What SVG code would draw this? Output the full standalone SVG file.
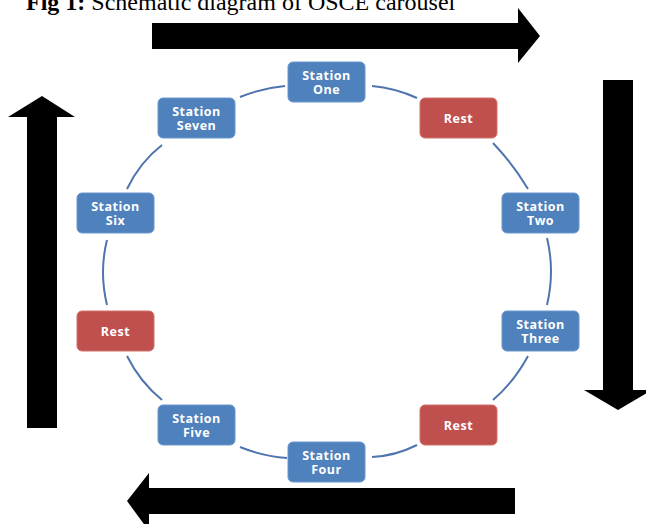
<svg xmlns="http://www.w3.org/2000/svg" width="646" height="524" viewBox="0 0 646 524">
<style>
.title{font-family:"Liberation Serif","Times New Roman",serif;font-size:24px;fill:#000}
.blue{fill:#4F81BD;stroke:#6B97CE;stroke-width:1}
.red{fill:#C0504D;stroke:#D0706D;stroke-width:1}
.lbl{font-family:"Open Sans","Liberation Sans",sans-serif;font-weight:bold;font-size:12.5px;fill:#fff;text-anchor:middle;letter-spacing:0.5px}
.conn path{fill:none;stroke:#4F74AE;stroke-width:2}
.arrow{fill:#000}
</style>
<rect width="646" height="524" fill="#fff"/>
<text class="title" x="26" y="10"><tspan font-weight="bold">Fig 1:</tspan> Schematic diagram of OSCE carousel</text>

<g id="arrows">
<polygon class="arrow" points="152,23 518,23 518,8 540,36 518,63 518,49 152,49"/>
<polygon class="arrow" points="603,80 633,80 633,390 652,390 618,410 584,390 603,390"/>
<polygon class="arrow" points="515,488 515,514 149,514 149,531 127,501 149,473 149,488"/>
<polygon class="arrow" points="27,428 27,117 8,117 42,96 75,117 57,117 57,428"/>
</g>

<g id="connectors" class="conn">
<path d="M240,97 Q262,88 285,86"/>
<path d="M372,86 Q395,88 417,98"/>
<path d="M493,143 Q513,164 528,189"/>
<path d="M547,238 Q555,271 547,305"/>
<path d="M528,356 Q514,382 493,400"/>
<path d="M417,445 Q395,456 372,457"/>
<path d="M287,458 Q262,456 240,447"/>
<path d="M162,400 Q140,382 127,356"/>
<path d="M107,305 Q99,272 107,240"/>
<path d="M127,189 Q140,162 162,145"/>
</g>

<g id="station-one"><rect class="blue" x="288" y="62" width="77" height="40" rx="5"/><text class="lbl" x="326.5" y="80">Station</text><text class="lbl" x="326.5" y="94">One</text></g>
<g id="rest-1"><rect class="red" x="420" y="98" width="77" height="40" rx="5"/><text class="lbl" x="458.5" y="122.5">Rest</text></g>
<g id="station-two"><rect class="blue" x="502" y="193" width="77" height="40" rx="5"/><text class="lbl" x="540.5" y="211">Station</text><text class="lbl" x="540.5" y="225">Two</text></g>
<g id="station-three"><rect class="blue" x="502" y="311" width="77" height="40" rx="5"/><text class="lbl" x="540.5" y="329">Station</text><text class="lbl" x="540.5" y="343">Three</text></g>
<g id="rest-2"><rect class="red" x="420" y="405" width="77" height="40" rx="5"/><text class="lbl" x="458.5" y="429.5">Rest</text></g>
<g id="station-four"><rect class="blue" x="288" y="442" width="77" height="40" rx="5"/><text class="lbl" x="326.5" y="460">Station</text><text class="lbl" x="326.5" y="474">Four</text></g>
<g id="station-five"><rect class="blue" x="158" y="405" width="77" height="40" rx="5"/><text class="lbl" x="196.5" y="423">Station</text><text class="lbl" x="196.5" y="437">Five</text></g>
<g id="rest-3"><rect class="red" x="77" y="311" width="77" height="40" rx="5"/><text class="lbl" x="115.5" y="335.5">Rest</text></g>
<g id="station-six"><rect class="blue" x="77" y="193" width="77" height="40" rx="5"/><text class="lbl" x="115.5" y="211">Station</text><text class="lbl" x="115.5" y="225">Six</text></g>
<g id="station-seven"><rect class="blue" x="158" y="98" width="77" height="40" rx="5"/><text class="lbl" x="196.5" y="116">Station</text><text class="lbl" x="196.5" y="130">Seven</text></g>
</svg>
